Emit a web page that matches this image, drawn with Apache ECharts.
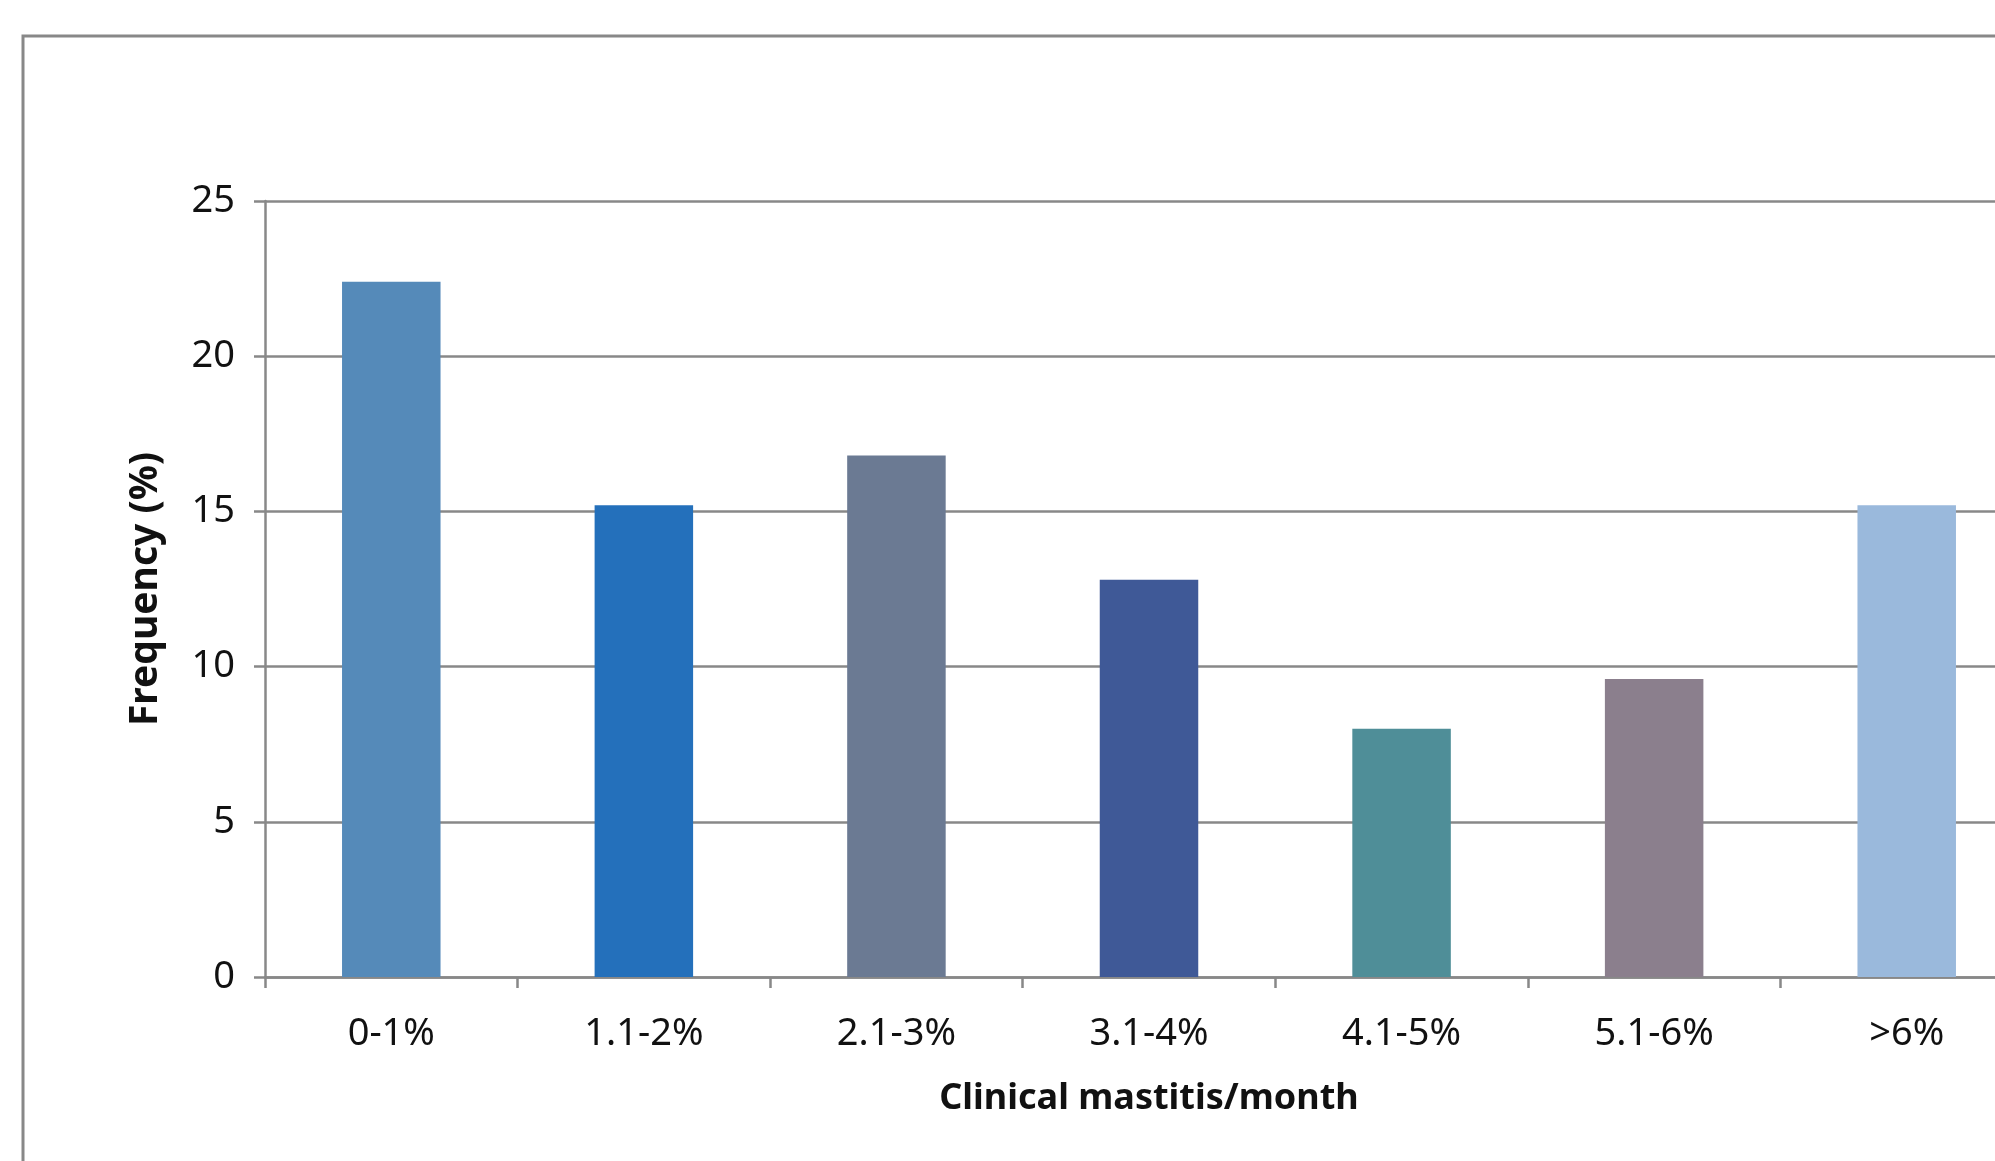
<!DOCTYPE html>
<html>
<head>
<meta charset="utf-8">
<script src="https://cdn.jsdelivr.net/npm/echarts@6/dist/echarts.min.js"></script>
<style>
  html, body { margin: 0; padding: 0; background: #fff; overflow: hidden; }
  /* the plot area runs on a little past the right edge of the window */
  #chart { width: 2040px; height: 1161px; }
</style>
</head>
<body>
<div id="chart"></div>
<script>
// Share of herds by monthly clinical mastitis rate
const categories = ['0-1%', '1.1-2%', '2.1-3%', '3.1-4%', '4.1-5%', '5.1-6%', '>6%'];
const frequency = [22.4, 15.2, 16.8, 12.8, 8.0, 9.6, 15.2];
const barColors = ['#558ab9', '#2470bb', '#6b7a93', '#3f5997', '#4f8e98', '#8b7f8d', '#9ab9dc'];
const yTicks = [0, 5, 10, 15, 20, 25];

const FONT = '"Noto Sans", Lato, sans-serif';
const GRID = '#888888';

const chart = echarts.init(document.getElementById('chart'), null, { renderer: 'canvas' });

chart.setOption({
  backgroundColor: '#ffffff',
  animation: false,
  graphic: [{
    type: 'rect',
    shape: { x: 23, y: 36, width: 2100, height: 1300 },
    style: { fill: 'none', stroke: GRID, lineWidth: 3 },
    z: -1
  }],
  grid: { left: 265, top: 201, right: 7, bottom: 184 },
  xAxis: {
    type: 'category',
    data: categories,
    boundaryGap: true,
    name: 'Clinical mastitis/month',
    nameLocation: 'middle',
    nameGap: 104,
    nameTextStyle: { fontFamily: FONT, fontSize: 36, fontWeight: 'bold', color: '#111' },
    axisLine: { show: true, lineStyle: { color: GRID, width: 2.5 } },
    axisTick: { show: true, alignWithLabel: false, length: 11, lineStyle: { color: GRID, width: 2.5 } },
    axisLabel: { fontFamily: FONT, fontSize: 38, color: '#111', margin: 38 },
    splitLine: { show: false }
  },
  yAxis: {
    type: 'value',
    min: yTicks[0],
    max: yTicks[yTicks.length - 1],
    interval: yTicks[1] - yTicks[0],
    name: 'Frequency (%)',
    nameLocation: 'middle',
    nameGap: 100,
    nameRotate: 90,
    nameTextStyle: { fontFamily: FONT, fontSize: 39, fontWeight: 'bold', color: '#111' },
    axisLine: { show: true, lineStyle: { color: GRID, width: 2.5 } },
    axisTick: { show: true, length: 11, lineStyle: { color: GRID, width: 2.5 } },
    axisLabel: { fontFamily: FONT, fontSize: 38, color: '#111', margin: 30 },
    splitLine: { show: true, lineStyle: { color: GRID, width: 2.5 } }
  },
  series: [{
    type: 'bar',
    data: frequency.map((v, i) => ({ value: v, itemStyle: { color: barColors[i] } })),
    barWidth: '39%',
    z: 3
  }]
});
</script>
</body>
</html>
